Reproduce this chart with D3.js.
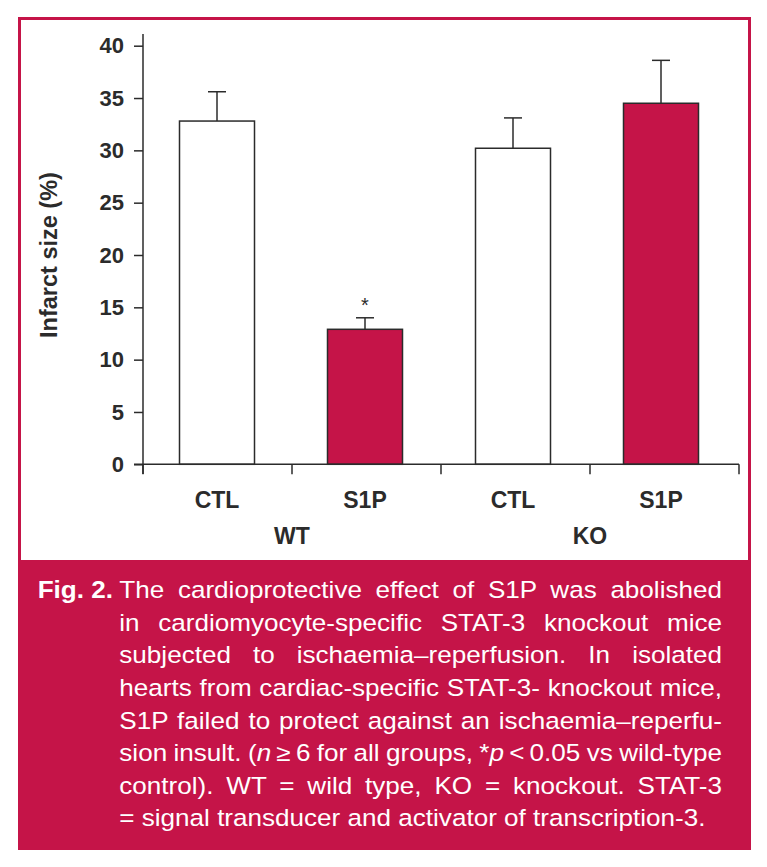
<!DOCTYPE html>
<html>
<head>
<meta charset="utf-8">
<script src="https://cdn.jsdelivr.net/npm/d3@7"></script>
<style>
  html, body { margin: 0; padding: 0; background: #ffffff; }
  svg { display: block; }
</style>
</head>
<body>
<svg id="chart" width="767" height="867"></svg>
<script>
// ---- data ----
const categories = ["WT-CTL", "WT-S1P", "KO-CTL", "KO-S1P"];
const categoryLabels = ["CTL", "S1P", "CTL", "S1P"];
const groupLabels = ["WT", "KO"];
const means = [32.8, 12.9, 30.2, 34.5];
const errors = [2.8, 1.1, 2.9, 4.1];
const treated = [false, true, false, true];
const significant = [false, true, false, false];
const yTicks = [0, 5, 10, 15, 20, 25, 30, 35, 40];
const yTitle = "Infarct size (%)";
const captionLead = "Fig. 2.";
const captionLines = [
  [{t: "The cardioprotective effect of S1P was abolished"}],
  [{t: "in cardiomyocyte-specific STAT-3 knockout mice"}],
  [{t: "subjected to ischaemia\u2013reperfusion. In isolated"}],
  [{t: "hearts from cardiac-specific STAT-3- knockout mice,"}],
  [{t: "S1P failed to protect against an ischaemia\u2013reperfu-"}],
  [{t: "sion insult. ("}, {t: "n", i: true}, {t: "\u2009\u2265\u20096 for all groups, *"}, {t: "p", i: true}, {t: "\u2009<\u20090.05 vs wild-type"}],
  [{t: "control). WT = wild type, KO = knockout. STAT-3"}],
  [{t: "= signal transducer and activator of transcription-3."}]
];

// ---- styles ----
const crimson = "#c51448";
const ink = "#2b2b2b";
const font = "'Liberation Sans', Arial, Helvetica, sans-serif";

const svg = d3.select("#chart");

// frame
svg.append("rect").attr("x", 18).attr("y", 17).attr("width", 733).attr("height", 833).attr("fill", crimson);
svg.append("rect").attr("x", 21).attr("y", 20).attr("width", 727).attr("height", 540).attr("fill", "#ffffff");

// scales
const y = d3.scaleLinear().domain([0, 40]).range([464.3, 45.7]);
const xBand = d3.scaleBand().domain(categories).range([143, 735]).paddingInner(0).paddingOuter(0);
const xTick = d3.scaleLinear().domain([0, 4]).range([143, 739]);
const barW = 75;

const g = svg.append("g");

// bars
g.selectAll("rect.bar").data(categories).join("rect")
  .attr("class", "bar")
  .attr("x", (d) => xBand(d) + xBand.bandwidth() / 2 - barW / 2)
  .attr("y", (d, i) => y(means[i]))
  .attr("width", barW)
  .attr("height", (d, i) => y(0) - y(means[i]))
  .attr("fill", (d, i) => treated[i] ? crimson : "#ffffff")
  .attr("stroke", ink).attr("stroke-width", 1.5);

// error bars
const capHalf = 9;
categories.forEach((c, i) => {
  const cx = xBand(c) + xBand.bandwidth() / 2;
  g.append("line").attr("x1", cx).attr("x2", cx)
    .attr("y1", y(means[i])).attr("y2", y(means[i] + errors[i]))
    .attr("stroke", ink).attr("stroke-width", 1.5);
  g.append("line").attr("x1", cx - capHalf).attr("x2", cx + capHalf)
    .attr("y1", y(means[i] + errors[i])).attr("y2", y(means[i] + errors[i]))
    .attr("stroke", ink).attr("stroke-width", 1.5);
  if (significant[i]) {
    g.append("text").attr("x", cx).attr("y", y(means[i] + errors[i]) - 6)
      .attr("text-anchor", "middle").attr("font-family", font).attr("font-size", 20)
      .attr("fill", ink).text("*");
  }
});

// y axis
const yAxis = d3.axisLeft(y).tickValues(yTicks).tickSize(9).tickPadding(10).tickFormat(d3.format("d"));
const yg = svg.append("g").attr("transform", "translate(143,0)").call(yAxis);
yg.select(".domain").remove();
yg.selectAll(".tick line").attr("stroke", ink).attr("stroke-width", 1.5);
yg.selectAll(".tick text").attr("font-family", font).attr("font-size", 22).attr("font-weight", "bold").attr("fill", ink);
svg.append("line").attr("x1", 143).attr("x2", 143).attr("y1", 34).attr("y2", 474)
  .attr("stroke", ink).attr("stroke-width", 1.5);

// x axis
svg.append("line").attr("x1", 134).attr("x2", xTick(4)).attr("y1", y(0)).attr("y2", y(0))
  .attr("stroke", ink).attr("stroke-width", 1.5);
svg.selectAll("line.xt").data(d3.range(5)).join("line").attr("class", "xt")
  .attr("x1", (d) => xTick(d)).attr("x2", (d) => xTick(d))
  .attr("y1", y(0)).attr("y2", y(0) + 10)
  .attr("stroke", ink).attr("stroke-width", 1.5);

// category labels
svg.selectAll("text.cat").data(categories).join("text").attr("class", "cat")
  .attr("x", (d) => xBand(d) + xBand.bandwidth() / 2)
  .attr("y", 507.5)
  .attr("text-anchor", "middle").attr("font-family", font).attr("font-size", 23)
  .attr("font-weight", "bold").attr("fill", ink)
  .text((d, i) => categoryLabels[i]);

// group labels
svg.selectAll("text.grp").data(groupLabels).join("text").attr("class", "grp")
  .attr("x", (d, i) => xTick(i * 2 + 1))
  .attr("y", 544)
  .attr("text-anchor", "middle").attr("font-family", font).attr("font-size", 23)
  .attr("font-weight", "bold").attr("fill", ink)
  .text((d) => d);

// y title
svg.append("text")
  .attr("transform", "translate(57,255) rotate(-90)")
  .attr("text-anchor", "middle").attr("font-family", font).attr("font-size", 23.5)
  .attr("font-weight", "bold").attr("fill", ink)
  .text(yTitle);

// caption (glyphs slightly wider than the font: horizontal stretch)
const sx = 1.11;
const capX = 119.3, capRight = 722, capY0 = 598.3, capDy = 32.6, capFs = 23.5;
svg.append("g").attr("transform", `translate(37.7,0) scale(${sx},1)`)
  .append("text").attr("x", 0).attr("y", capY0)
  .attr("font-family", font).attr("font-size", capFs).attr("font-weight", "bold")
  .attr("fill", "#ffffff").text(captionLead);

const capG = svg.append("g").attr("transform", `translate(${capX},0) scale(${sx},1)`);
captionLines.forEach((parts, li) => {
  const t = capG.append("text").attr("x", 0).attr("y", capY0 + li * capDy)
    .attr("font-family", font).attr("font-size", capFs).attr("fill", "#ffffff");
  parts.forEach((p) => {
    const ts = t.append("tspan").text(p.t);
    if (p.i) ts.attr("font-style", "italic");
  });
  if (li < captionLines.length - 1) {
    const natural = t.node().getComputedTextLength();
    const full = parts.map((p) => p.t).join("");
    const nSpaces = (full.match(/ /g) || []).length;
    if (nSpaces > 0) {
      const ws = ((capRight - capX) / sx - natural) / nSpaces;
      t.style("word-spacing", ws + "px");
    }
  }
});
</script>
</body>
</html>
